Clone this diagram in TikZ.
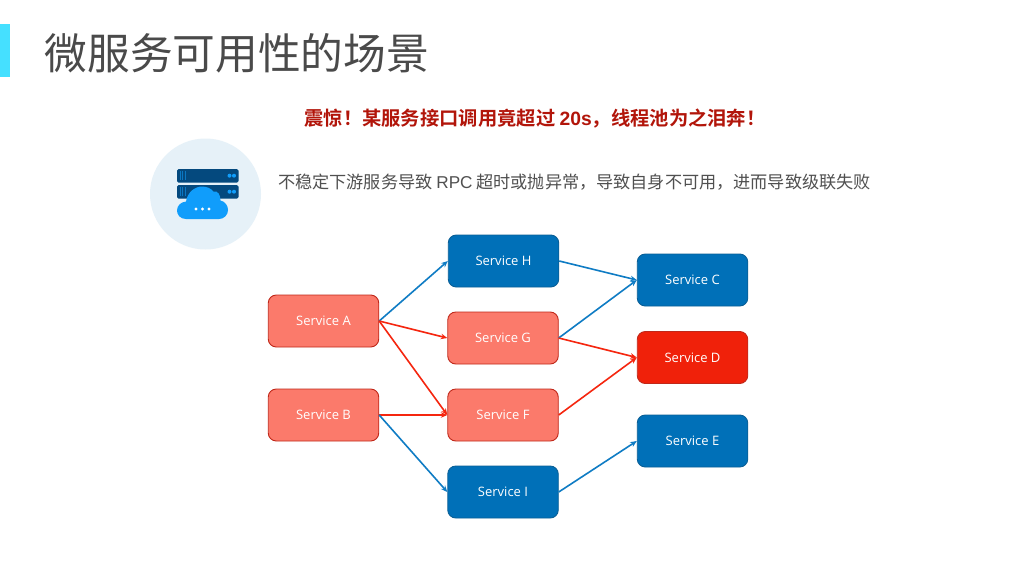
\documentclass[tikz,border=0pt]{standalone}
\usepackage{fontspec}
\setmainfont{Open Sans}
\newfontfamily\cjk{Noto Sans CJK SC}
\newfontfamily\cjkb{Noto Sans CJK SC}[BoldFont={Noto Sans CJK SC Bold}]
\newfontfamily\latinh{Liberation Sans}
\usetikzlibrary{arrows.meta}
\definecolor{svcblue}{HTML}{0070B8}
\definecolor{svcblueedge}{HTML}{0A5F96}
\definecolor{svcsalmon}{HTML}{FB7A6B}
\definecolor{svcsalmonedge}{HTML}{C0281A}
\definecolor{svcred}{HTML}{F0210A}
\definecolor{lineblue}{HTML}{0F7CC4}
\definecolor{linered}{HTML}{F5260F}
\definecolor{titlegrey}{HTML}{4A4A4A}
\definecolor{bodygrey}{HTML}{505050}
\definecolor{headred}{HTML}{B2150A}
\definecolor{accent}{HTML}{45E0FF}
\definecolor{halo}{HTML}{E6F1F8}
\definecolor{rack}{HTML}{04497E}
\definecolor{cloudblue}{HTML}{109DFB}
\tikzset{
  svc/.style={rounded corners=8pt,minimum width=110.5pt,minimum height=52pt,inner sep=0pt,
    text=white,font=\fontsize{13}{15}\selectfont,line width=0.9pt},
  bluebox/.style={svc,fill=svcblue,draw=svcblueedge},
  salmonbox/.style={svc,fill=svcsalmon,draw=svcsalmonedge},
  redbox/.style={svc,fill=svcred,draw=svcsalmonedge},
  blueline/.style={draw=lineblue,line width=1.6pt,-{Stealth[length=6.5pt,width=5.5pt]}},
  redline/.style={draw=linered,line width=1.6pt,-{Stealth[length=6.5pt,width=5.5pt]}},
  rackbox/.style={fill=rack,rounded corners=1.5pt,draw=none},
  rackdot/.style={fill=cloudblue,draw=none,circle,inner sep=0pt,minimum size=4pt},
}
\begin{document}
\begin{tikzpicture}[x=1pt,y=-1pt]
\useasboundingbox (0,0) rectangle (1024,576);
\fill[white] (0,0) rectangle (1024,576);
\fill[accent] (0,24) rectangle (10,77);
\node[anchor=west,inner sep=0pt,text=titlegrey,font=\cjk\fontsize{42.7}{46}\selectfont] (title) at (44.5,53) {微服务可用性的场景};
\node[anchor=center,inner sep=0pt,text=headred,font=\cjkb\bfseries\fontsize{19.3}{22}\selectfont] (head) at (535,119) {震惊！某服务接口调用竟超过 {\latinh\bfseries 20s}，线程池为之泪奔！};
\node[anchor=west,inner sep=0pt,text=bodygrey,font=\cjk\fontsize{17.15}{20}\selectfont] (body) at (278,182) {不稳定下游服务导致 {\latinh RPC} 超时或抛异常，导致自身不可用，进而导致级联失败};
% icon
\fill[halo] (205.5,194) circle (55.5);
\fill[rackbox] (177,169) rectangle (238.5,182.5);
\fill[rackbox] (177,185) rectangle (238.5,198.5);
\foreach \yy in {175.7,191.7}{
  \node[rackdot] at (229.5,\yy) {};
  \node[rackdot] at (234,\yy) {};
  \foreach \xx in {180,182.5,185}{\draw[cloudblue!55!rack,line width=0.6pt] (\xx,\yy-4.5) -- (\xx,\yy+4.5);}
}
\fill[cloudblue] (186,219) .. controls (180,219) and (177,214.5) .. (177,210.5)
  .. controls (177,205.5) and (181,202) .. (186,201.5)
  .. controls (187.5,192) and (195,186.5) .. (202,186.5)
  .. controls (207,186.5) and (211,188.5) .. (213.5,191.5)
  .. controls (218,190.5) and (220.5,195) .. (220.5,200.5)
  .. controls (225,201.5) and (228,205.5) .. (228,210)
  .. controls (228,215) and (224,219) .. (219,219) -- cycle;
\foreach \xx in {196,202.5,209}{\fill[white] (\xx,209) circle (1.7);}
% nodes
\node[salmonbox] (a) at (323.5,321) {Service A};
\node[salmonbox] (b) at (323.5,415) {Service B};
\node[bluebox] (h) at (503.5,261) {Service H};
\node[salmonbox] (g) at (503,338) {Service G};
\node[salmonbox] (f) at (503,415) {Service F};
\node[bluebox] (i) at (503,492) {Service I};
\node[bluebox] (c) at (692.5,280) {Service C};
\node[redbox] (d) at (692.5,357.5) {Service D};
\node[bluebox] (e) at (692.5,441) {Service E};
% connectors
\draw[blueline] (a.east) -- (h.west);
\draw[redline] (a.east) -- (g.west);
\draw[redline] (a.east) -- (f.west);
\draw[redline] (b.east) -- (f.west);
\draw[blueline] (b.east) -- (i.west);
\draw[blueline] (h.east) -- (c.west);
\draw[blueline] (g.east) -- (c.west);
\draw[redline] (g.east) -- (d.west);
\draw[redline] (f.east) -- (d.west);
\draw[blueline] (i.east) -- (e.west);
\end{tikzpicture}
\end{document}
